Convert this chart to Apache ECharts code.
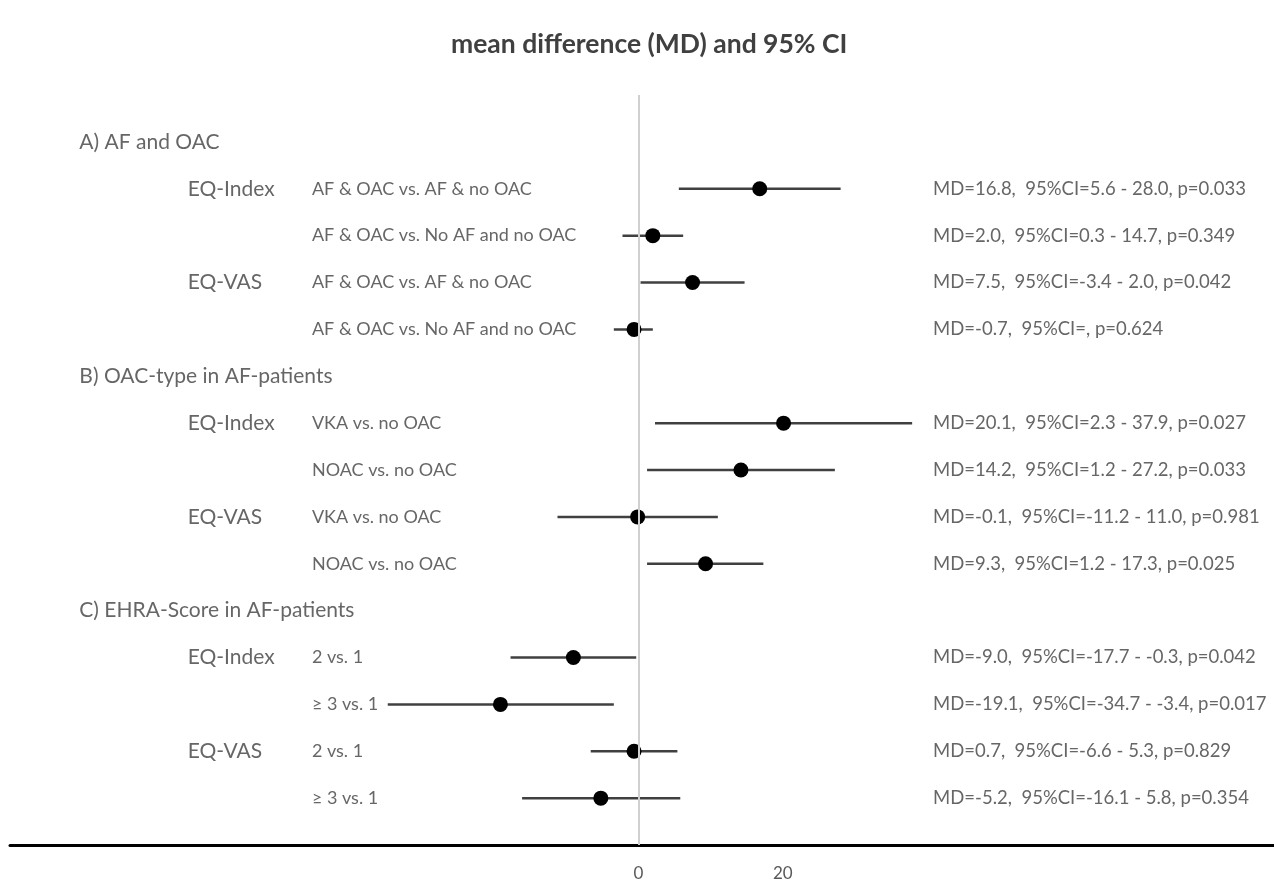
<!DOCTYPE html>
<html>
<head>
<meta charset="utf-8">
<title>mean difference (MD) and 95% CI</title>
<script src="https://cdn.jsdelivr.net/npm/echarts@6/dist/echarts.min.js"></script>
<style>
  html, body { margin: 0; padding: 0; background: #fff; }
  #chart { width: 1274px; height: 883px; }
</style>
</head>
<body>
<div id="chart"></div>
<script>
// section headings (one row each, followed by four comparison rows)
var sections = ['A) AF and OAC', 'B) OAC-type in AF-patients', 'C) EHRA-Score in AF-patients'];
var outcomes = ['EQ-Index', '', 'EQ-VAS', '', 'EQ-Index', '', 'EQ-VAS', '', 'EQ-Index', '', 'EQ-VAS', ''];
var comparisons = [
  'AF & OAC vs. AF & no OAC', 'AF & OAC vs. No AF and no OAC',
  'AF & OAC vs. AF & no OAC', 'AF & OAC vs. No AF and no OAC',
  'VKA vs. no OAC', 'NOAC vs. no OAC', 'VKA vs. no OAC', 'NOAC vs. no OAC',
  '2 vs. 1', '\u2265 3 vs. 1', '2 vs. 1', '\u2265 3 vs. 1'
];
// plotted values (as drawn)
var md     = [16.8, 2.0, 7.5, -0.6, 20.1, 14.2, -0.1, 9.3, -9.0, -19.1, -0.6, -5.2];
var ciLow  = [5.6, -2.2, 0.3, -3.4, 2.3, 1.2, -11.2, 1.2, -17.7, -34.7, -6.6, -16.1];
var ciHigh = [28.0, 6.2, 14.7, 2.0, 37.9, 27.2, 11.0, 17.3, -0.3, -3.4, 5.4, 5.8];
var stats = [
  'MD=16.8,  95%CI=5.6 - 28.0, p=0.033',
  'MD=2.0,  95%CI=0.3 - 14.7, p=0.349',
  'MD=7.5,  95%CI=-3.4 - 2.0, p=0.042',
  'MD=-0.7,  95%CI=, p=0.624',
  'MD=20.1,  95%CI=2.3 - 37.9, p=0.027',
  'MD=14.2,  95%CI=1.2 - 27.2, p=0.033',
  'MD=-0.1,  95%CI=-11.2 - 11.0, p=0.981',
  'MD=9.3,  95%CI=1.2 - 17.3, p=0.025',
  'MD=-9.0,  95%CI=-17.7 - -0.3, p=0.042',
  'MD=-19.1,  95%CI=-34.7 - -3.4, p=0.017',
  'MD=0.7,  95%CI=-6.6 - 5.3, p=0.829',
  'MD=-5.2,  95%CI=-16.1 - 5.8, p=0.354'
];
var xTicks = [0, 20];

var FONT = 'Lato';
var TXT = '#404040';

// row index on the y axis (0 = top)
function sectionRow(s) { return 1 + s * 5; }
function itemRow(i) { return sectionRow(Math.floor(i / 4)) + 1 + (i % 4); }

// text columns, in x-axis units
var colSection = -77.4, colOutcome = -62.4, colComp = -45.2, colStats = 40.8;

function textSeries(name, x, rows, texts, size) {
  return {
    name: name,
    type: 'scatter',
    symbolSize: 0,
    silent: true,
    data: texts.map(function (t, k) { return [x, rows[k], t]; }),
    label: {
      show: true,
      position: 'right',
      distance: 0,
      color: TXT,
      fontFamily: FONT,
      fontSize: size,
      formatter: function (p) { return p.value[2]; }
    }
  };
}

var rows = md.map(function (v, i) { return itemRow(i); });

var option = {
  animation: false,
  title: {
    text: 'mean difference (MD) and 95% CI',
    left: 446,
    top: 26,
    textStyle: { color: TXT, fontFamily: FONT, fontSize: 26.5, fontWeight: 'bold' }
  },
  grid: { left: 10, right: 0, top: 95, bottom: 38 },
  xAxis: {
    type: 'value',
    min: -87,
    max: 88,
    axisLine: { show: true, onZero: false, lineStyle: { color: '#000', width: 3 } },
    axisTick: { show: false },
    splitLine: { show: false },
    axisLabel: {
      customValues: xTicks,
      color: '#595959',
      fontFamily: FONT,
      fontSize: 17,
      margin: 20
    }
  },
  yAxis: {
    type: 'value',
    min: 0,
    max: 16,
    inverse: true,
    show: false
  },
  series: [
    {
      name: 'CI',
      type: 'custom',
      silent: true,
      data: md.map(function (v, i) { return [ciLow[i], ciHigh[i], rows[i]]; }),
      encode: { x: [0, 1], y: 2 },
      renderItem: function (params, api) {
        var a = api.coord([api.value(0), api.value(2)]);
        var b = api.coord([api.value(1), api.value(2)]);
        return {
          type: 'line',
          shape: { x1: a[0], y1: a[1], x2: b[0], y2: b[1] },
          style: { stroke: '#404040', lineWidth: 2.5 }
        };
      },
      markLine: {
        silent: true,
        symbol: 'none',
        label: { show: false },
        lineStyle: { color: '#d0d0d0', width: 2, type: 'solid' },
        data: [{ xAxis: 0 }]
      },
      z: 2
    },
    {
      name: 'MD',
      type: 'scatter',
      symbol: 'circle',
      symbolSize: 15,
      itemStyle: { color: '#000', opacity: 1 },
      data: md.map(function (v, i) { return [v, rows[i]]; }),
      z: 3
    },
    textSeries('sections', colSection, sections.map(function (s, k) { return sectionRow(k); }), sections, 21),
    textSeries('outcomes', colOutcome, rows, outcomes, 21),
    textSeries('comparisons', colComp, rows, comparisons, 18),
    textSeries('stats', colStats, rows, stats, 18.5)
  ]
};

var myChart = echarts.init(document.getElementById('chart'));
myChart.setOption(option);
window.addEventListener('resize', function () { myChart.resize(); });
</script>
</body>
</html>
